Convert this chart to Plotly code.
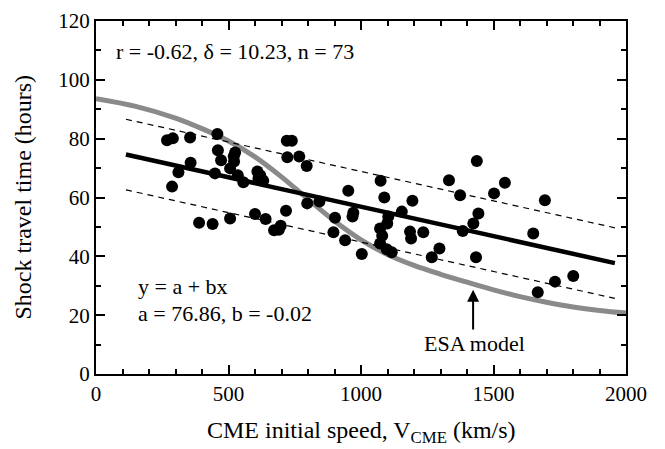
import plotly.graph_objects as go
import numpy as np

# Observed data (CME speed km/s, shock travel time hours)
speed = [268, 290, 355, 458, 460, 525, 472, 521, 357, 506, 311, 449, 535, 556, 609, 613, 631,
         720, 739, 722, 767, 795, 287, 717, 600, 640, 506, 389, 440, 672, 697, 797, 843, 952,
         902, 971, 968, 896, 940, 1003, 1074, 1088, 1194, 1154, 1103, 1099, 1072, 1072, 1097,
         1116, 1185, 1189, 1235, 1267, 1296, 1332, 1374, 1384, 1437, 1424, 1443, 1434, 1502,
         1543, 1694, 1650, 1801, 1732, 1667, 620, 690, 1080, 520]
travel = [79.5, 80.1, 80.4, 81.6, 76.1, 75.3, 72.7, 72.2, 71.8, 69.9, 68.6, 68.2, 67.6, 65.2,
          68.8, 66.5, 65.7, 79.3, 79.3, 73.7, 73.9, 70.7, 63.7, 55.5, 54.4, 52.7, 52.9, 51.4,
          51.0, 48.9, 50.4, 58.0, 58.6, 62.3, 53.1, 54.8, 53.5, 48.2, 45.5, 40.8, 65.7, 60.0,
          58.9, 55.2, 53.5, 51.2, 49.5, 44.4, 42.4, 41.4, 48.4, 46.1, 48.2, 39.7, 42.7, 65.9,
          60.8, 48.6, 72.4, 51.2, 54.6, 39.7, 61.4, 65.0, 59.1, 47.8, 33.3, 31.4, 27.8, 67.5,
          49.0, 47.0, 74.0]

# Linear fit y = a + b x and +/- band
fit_a = 76.86
fit_b = -0.02
band = 12.0
fit_x = [113, 1958]

# ESA model curve (sampled from figure)
esa_x = [0, 150, 300, 400, 500, 600, 700, 800, 900, 1000, 1100, 1200, 1300, 1400, 1500,
         1600, 1700, 1800, 1900, 2000]
esa_y = [93.6, 91.0, 87.0, 83.4, 79.2, 73.8, 67.0, 59.4, 52.0, 45.6, 40.6, 36.9, 33.9, 31.2,
         28.6, 26.3, 24.4, 22.8, 21.6, 20.7]

x_ticks = [0, 500, 1000, 1500, 2000]
y_ticks = [0, 20, 40, 60, 80, 100, 120]

FONT = "Liberation Serif, Tinos, Times New Roman, DejaVu Serif, Noto Serif, serif"

fx = np.array(fit_x, dtype=float)
fy = fit_a + fit_b * fx

fig = go.Figure()
fig.add_trace(go.Scatter(x=esa_x, y=esa_y, mode="lines",
                         line=dict(color="#8a8a8a", width=5, shape="spline", smoothing=1.0),
                         hoverinfo="skip"))
fig.add_trace(go.Scatter(x=fx, y=fy + band, mode="lines", line=dict(color="black", width=1.2, dash="6px,5px")))
fig.add_trace(go.Scatter(x=fx, y=fy - band, mode="lines", line=dict(color="black", width=1.2, dash="6px,5px")))
fig.add_trace(go.Scatter(x=fx, y=fy, mode="lines", line=dict(color="black", width=4.5)))
fig.add_trace(go.Scatter(x=speed, y=travel, mode="markers", marker=dict(color="black", size=12)))

axis_common = dict(
    showgrid=False, zeroline=False, showline=True, linecolor="black", linewidth=2,
    mirror="ticks", ticks="inside", ticklen=9, tickwidth=1.5, tickcolor="black",
    tickfont=dict(family=FONT, size=21, color="black"), automargin=False,
)

fig.update_xaxes(range=[0, 2000], tickvals=x_ticks, ticktext=[str(v) for v in x_ticks],
                 minor=dict(ticks="inside", dtick=100, ticklen=5, tickwidth=1.5, tickcolor="black"),
                 **axis_common)
fig.update_yaxes(range=[0, 120], tickvals=y_ticks, ticktext=[str(v) for v in y_ticks],
                 minor=dict(ticks="inside", dtick=10, ticklen=5, tickwidth=1.5, tickcolor="black"),
                 **axis_common)

title_font = dict(family=FONT, size=24, color="black")
fig.add_annotation(xref="paper", yref="paper", x=0.5, y=0, yshift=-58,
                   text="CME initial speed, V<sub>CME</sub> (km/s)", showarrow=False,
                   xanchor="center", yanchor="middle", font=title_font)
fig.add_annotation(xref="paper", yref="paper", x=0, y=0.5, xshift=-74,
                   text="Shock travel time (hours)", showarrow=False, textangle=-90,
                   xanchor="center", yanchor="middle", font=title_font)

ann_font = dict(family=FONT, size=22, color="black")
fig.add_annotation(x=68, y=109.5, text="r = -0.62, δ = 10.23, n = 73", showarrow=False,
                   xanchor="left", yanchor="middle", font=ann_font)
fig.add_annotation(x=151, y=29.7, text="y = a + bx", showarrow=False,
                   xanchor="left", yanchor="middle", font=ann_font)
fig.add_annotation(x=151, y=20.7, text="a = 76.86, b = -0.02", showarrow=False,
                   xanchor="left", yanchor="middle", font=ann_font)
fig.add_annotation(x=1423, y=28.6, ax=1423, ay=14.6, axref="x", ayref="y",
                   text="", showarrow=True, arrowhead=2, arrowsize=1.2, arrowwidth=2, arrowcolor="black")
fig.add_annotation(x=1430, y=10.5, text="ESA model", showarrow=False,
                   xanchor="center", yanchor="middle", font=ann_font)

# page body adds an 8px margin, so the figure is sized to fit inside the window
fig.update_layout(
    width=657, height=441, showlegend=False,
    plot_bgcolor="white", paper_bgcolor="white",
    margin=dict(l=88, r=39, t=13, b=75),
)

fig.write_html("out.html")
